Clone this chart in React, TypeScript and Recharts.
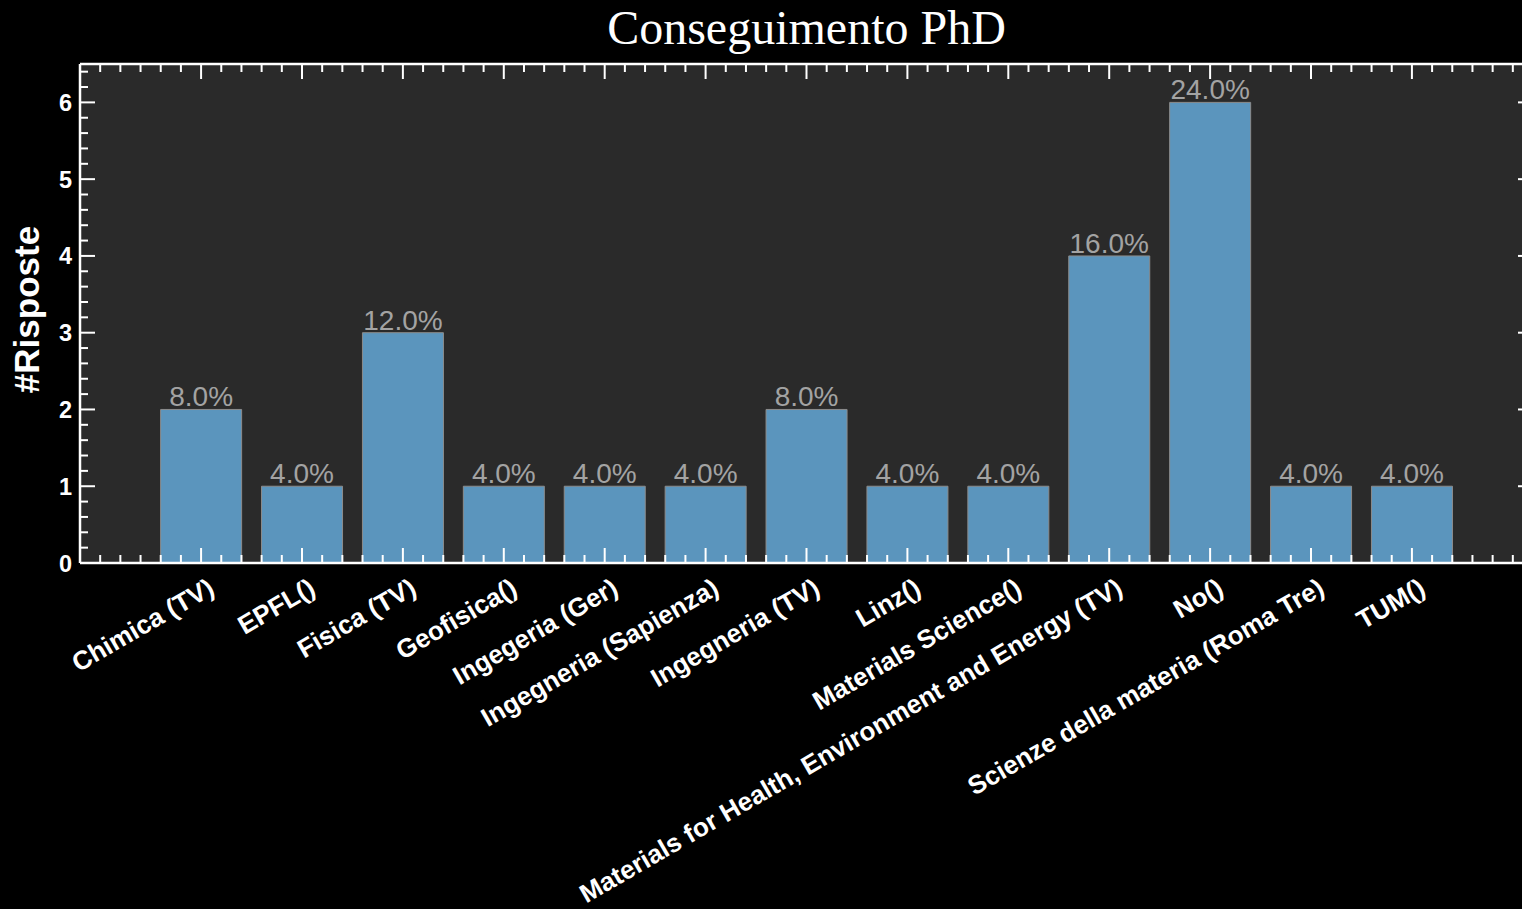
import React from 'react'
import { BarChart, Bar, XAxis, YAxis, CartesianGrid, LabelList, Label } from 'recharts'

const categories = [
  'Chimica (TV)',
  'EPFL()',
  'Fisica (TV)',
  'Geofisica()',
  'Ingegeria (Ger)',
  'Ingegneria (Sapienza)',
  'Ingegneria (TV)',
  'Linz()',
  'Materials Science()',
  'Materials for Health, Environment and Energy (TV)',
  'No()',
  'Scienze della materia (Roma Tre)',
  'TUM()',
]
const responses = [2, 1, 3, 1, 1, 1, 2, 1, 1, 4, 6, 1, 1]
const yMajorTicks = [0, 1, 2, 3, 4, 5, 6]

const xDomain: [number, number] = [-1.2, 13.2]
const yDomain: [number, number] = [0, 6.5]

const total = responses.reduce((s, v) => s + v, 0)
const data = categories.map((name, idx) => ({ idx, name, count: responses[idx] }))

// minor ticks every 0.2 (5 per unit), majors are the integers
const steps = (from: number, to: number) => {
  const out: number[] = []
  for (let i = Math.round(from * 5); i <= Math.round(to * 5); i++) out.push(Math.round(i * 2) / 10)
  return out
}
const xTicks = steps(-1, 13)
const yTicks = steps(0, 6.4)

const SANS = '"Liberation Sans", Arial, sans-serif'
const WHITE = '#ffffff'
const MAJOR = 15
const MINOR = 8

const isMajorX = (v: number) => Number.isInteger(v) && v >= 0 && v < categories.length
const isMajorY = (v: number) => yMajorTicks.includes(v)

const BottomTick = ({ x, y, payload }: any) => {
  const v = payload.value
  const major = isMajorX(v)
  return (
    <g>
      <line x1={x} y1={y} x2={x} y2={y - (major ? MAJOR : MINOR)} stroke={WHITE} strokeWidth={2} />
      {major && (
        <text
          transform={`translate(${x + 15},${y + 30}) rotate(-30)`}
          textAnchor="end"
          fill={WHITE}
          fontFamily={SANS}
          fontWeight="bold"
          fontSize={26}
        >
          {categories[v]}
        </text>
      )}
    </g>
  )
}

const TopTick = ({ x, y, payload }: any) => (
  <line x1={x} y1={y} x2={x} y2={y + (isMajorX(payload.value) ? MAJOR : MINOR)} stroke={WHITE} strokeWidth={2} />
)

const LeftTick = ({ x, y, payload }: any) => {
  const v = payload.value
  const major = isMajorY(v)
  return (
    <g>
      <line x1={x} y1={y} x2={x + (major ? MAJOR : MINOR)} y2={y} stroke={WHITE} strokeWidth={2} />
      {major && (
        <text x={x - 8} y={y + 8.5} textAnchor="end" fill={WHITE} fontFamily={SANS} fontWeight="bold" fontSize={23.5}>
          {v}
        </text>
      )}
    </g>
  )
}

const RightTick = ({ x, y, payload }: any) => (
  <line x1={x} y1={y} x2={x - (isMajorY(payload.value) ? MAJOR : MINOR)} y2={y} stroke={WHITE} strokeWidth={2} />
)

const PercentLabel = ({ x, y, width, value }: any) => (
  <text x={x + width / 2} y={y - 3} textAnchor="middle" fill="#a3a3a3" fontFamily={SANS} fontSize={28}>
    {((value / total) * 100).toFixed(1)}%
  </text>
)

export default function App() {
  return (
    <div style={{ position: 'fixed', left: 0, top: 0, width: 1522, height: 909, overflow: 'hidden', background: '#000' }}>
      <svg width={1522} height={64} style={{ position: 'absolute', left: 0, top: 0 }}>
        <text x={806.5} y={44} textAnchor="middle" fill={WHITE} fontFamily='"Liberation Serif", "Times New Roman", serif' fontSize={48}>
          Conseguimento PhD
        </text>
      </svg>
      <BarChart
        width={1545}
        height={909}
        data={data}
        margin={{ top: 64, right: 12, left: 0, bottom: 0 }}
        style={{ position: 'absolute', left: 0, top: 0 }}
      >
        <CartesianGrid horizontal={false} vertical={false} fill="#2a2a2a" />
        <XAxis
          dataKey="idx"
          type="number"
          domain={xDomain}
          allowDataOverflow
          ticks={xTicks}
          interval={0}
          height={346}
          tickSize={0}
          tickMargin={0}
          tickLine={false}
          axisLine={{ stroke: WHITE, strokeWidth: 2.5 }}
          tick={BottomTick}
        />
        <XAxis
          xAxisId="top"
          dataKey="idx"
          type="number"
          orientation="top"
          mirror
          domain={xDomain}
          allowDataOverflow
          ticks={xTicks}
          interval={0}
          tickSize={0}
          tickMargin={0}
          tickLine={false}
          axisLine={{ stroke: WHITE, strokeWidth: 2.5 }}
          tick={TopTick}
        />
        <YAxis
          type="number"
          domain={yDomain}
          allowDataOverflow
          ticks={yTicks}
          interval={0}
          width={80}
          tickSize={0}
          tickMargin={0}
          tickLine={false}
          axisLine={{ stroke: WHITE, strokeWidth: 2.5 }}
          tick={LeftTick}
        >
          <Label
            content={({ viewBox }: any) => {
              const cx = viewBox.x + 39
              const cy = viewBox.y + viewBox.height / 2 - 4
              return (
                <text
                  transform={`translate(${cx},${cy}) rotate(-90)`}
                  textAnchor="middle"
                  fill={WHITE}
                  fontFamily={SANS}
                  fontWeight="bold"
                  fontSize={35}
                >
                  #Risposte
                </text>
              )
            }}
          />
        </YAxis>
        <YAxis
          yAxisId="right"
          type="number"
          orientation="right"
          mirror
          domain={yDomain}
          allowDataOverflow
          ticks={yTicks}
          interval={0}
          tickSize={0}
          tickMargin={0}
          tickLine={false}
          axisLine={{ stroke: WHITE, strokeWidth: 2.5 }}
          tick={RightTick}
        />
        <Bar dataKey="count" fill="#5b95bd" stroke="#8c8c8c" strokeWidth={1} barSize={81} isAnimationActive={false}>
          <LabelList dataKey="count" content={PercentLabel} />
        </Bar>
      </BarChart>
    </div>
  )
}
